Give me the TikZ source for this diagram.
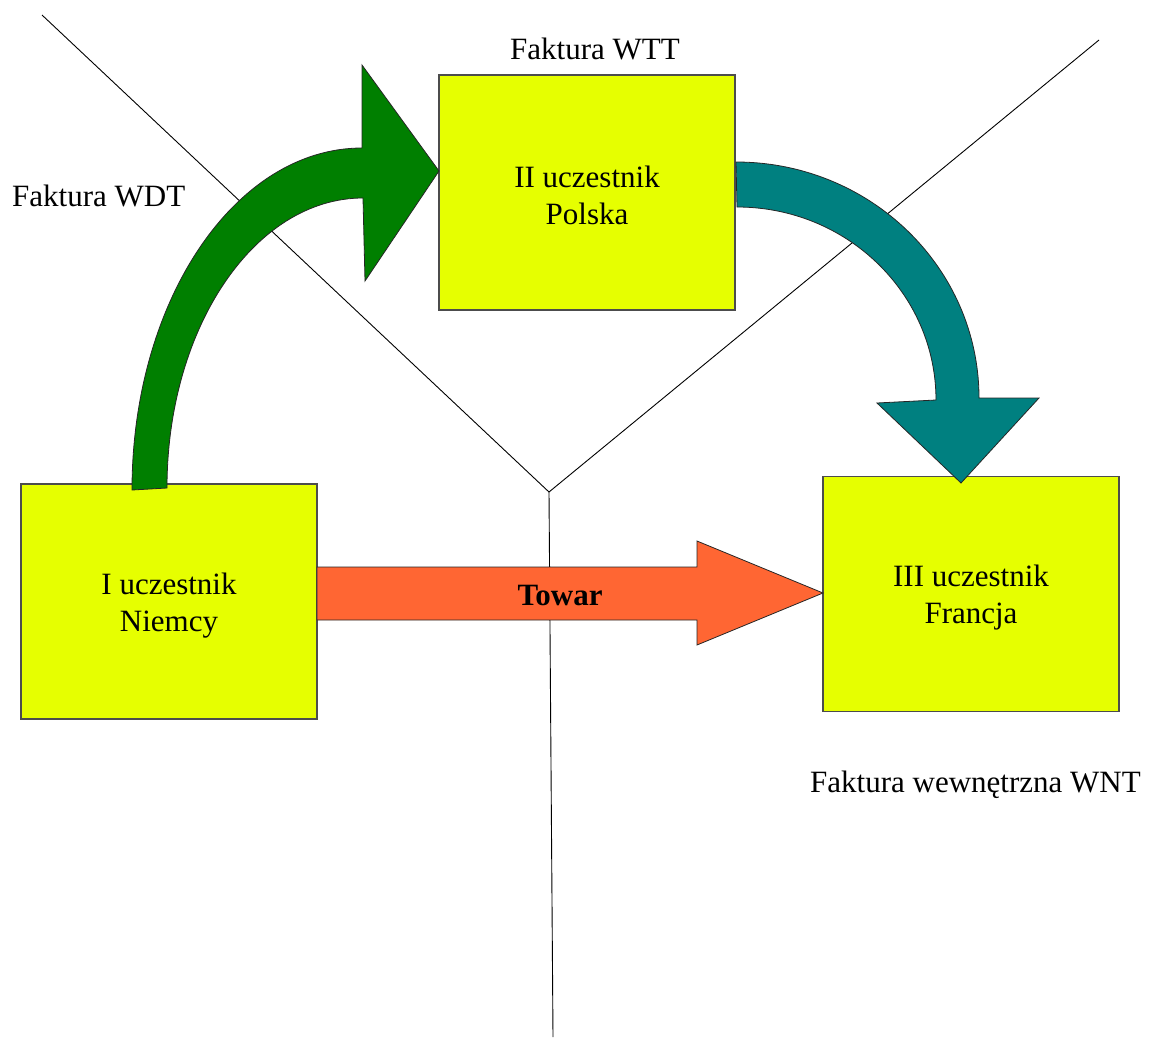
\documentclass[tikz,border=0pt]{standalone}
\usepackage{fontspec}
\setmainfont{Liberation Serif}
\definecolor{boxyellow}{HTML}{E6FF00}
\definecolor{arrowgreen}{HTML}{007F00}
\definecolor{arrowteal}{HTML}{008080}
\definecolor{arroworange}{HTML}{FF6633}
\begin{document}
\begin{tikzpicture}[x=1pt,y=-1pt,
  participant/.style={draw=black!70, line width=1.2pt, fill=boxyellow, minimum width=296pt, minimum height=235pt, inner sep=0pt},
  boxtext/.style={inner sep=0pt, align=center, font=\fontsize{31}{37}\selectfont},
  caption/.style={inner sep=0pt, font=\fontsize{31}{37}\selectfont},
  guide/.style={draw=black, line width=0.9pt},
  blockarrow/.style={draw=black!85, line width=0.8pt, line join=miter}]
\useasboundingbox (0,0) rectangle (1152,1039);

% guide lines
\coordinate (tl) at (42,15);
\coordinate (tr) at (1099,40);
\coordinate (junction) at (549,492);
\coordinate (bottom) at (553,1037);
\draw[guide] (tl) -- (junction) -- (tr);
\draw[guide] (junction) -- (bottom);

% participants
\node[participant] (de) at (169,601.5) {};
\node[participant] (pl) at (587,192.5) {};
\node[participant] (fr) at (971,594) {};
\node[boxtext] (de-text) at ([yshift=-4pt]de.center) {I uczestnik\\Niemcy};
\node[boxtext] (pl-text) at ([yshift=-3pt]pl.center) {II uczestnik\\Polska};
\node[boxtext] (fr-text) at ([yshift=-4pt]fr.center) {III uczestnik\\Francja};

% labels
\node[caption, anchor=west] (wdt) at (12,196) {Faktura WDT};
\node[caption] (wtt) at (595,49) {Faktura WTT};
\node[caption, anchor=west] (wnt) at (810,785) {Faktura wewnętrzna WNT};

% Towar arrow
\draw[blockarrow, fill=arroworange] (317,567) -- (697,567) -- (697,541) -- (823,593) -- (697,645) -- (697,620) -- (317,620) -- cycle;
\node[caption, font=\fontsize{31}{37}\selectfont\bfseries] (towar) at (560,595) {Towar};

% green arrow (WDT)
\draw[blockarrow, fill=arrowgreen]
  (132,490) .. controls (132,301.1) and (235,148) .. (362,148)
  -- (362,65) -- (439,171) -- (365,281) -- (363,198)
  .. controls (254.75,198) and (167,327.8) .. (167,488) -- cycle;

% teal arrow (WTT)
\draw[blockarrow, fill=arrowteal]
  (736,162) .. controls (870.2,162) and (979,267.7) .. (979,398)
  -- (1039,398) -- (961,483) -- (877,403) -- (936,400)
  .. controls (936,293.4) and (846.9,207) .. (737,207) -- cycle;
\end{tikzpicture}
\end{document}
